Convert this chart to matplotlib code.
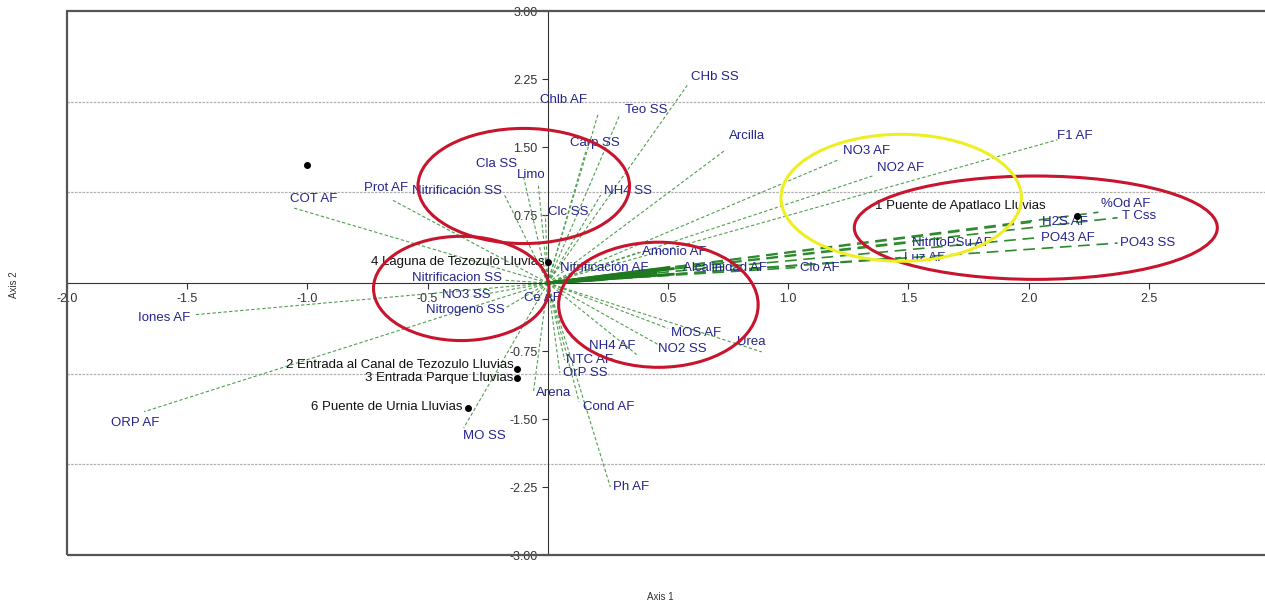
import numpy as np
import matplotlib
matplotlib.use("Agg")
import matplotlib.pyplot as plt
from matplotlib.patches import Ellipse, Rectangle

plt.rcParams['font.family'] = ['Liberation Sans', 'DejaVu Sans']

# variable loadings (axis 1, axis 2)
var_names = ['CHb SS', 'Teo SS', 'Chlb AF', 'Carp SS', 'Cla SS', 'Limo', 'Clc SS',
             'NH4 SS', 'Arcilla', 'Nitrificación SS', 'Prot AF', 'COT AF',
             'NO3 AF', 'NO2 AF', 'F1 AF', '%Od AF', 'T Css', 'H2S AF', 'PO43 AF',
             'PO43 SS', 'NitritoPSu AF', 'Luz AF', 'Clo AF', 'Alcalinidad AF',
             'Nitrificación AF', 'Amonio AF', 'MOS AF', 'NO2 SS', 'Urea', 'NH4 AF',
             'NTC AF', 'OrP SS', 'Arena', 'Cond AF', 'Ph AF', 'MO SS', 'Ce AF',
             'Nitrificacion SS', 'NO3 SS', 'Nitrogeno SS', 'Iones AF', 'ORP AF']
var_x = [0.58, 0.30, 0.21, 0.16, -0.10, -0.04, -0.01,
         0.22, 0.74, -0.18, -0.65, -1.06,
         1.21, 1.35, 2.12, 2.29, 2.37, 2.01, 2.04,
         2.37, 1.49, 1.47, 1.03, 0.55,
         0.04, 0.38, 0.50, 0.46, 0.89, 0.37,
         0.07, 0.05, -0.06, 0.13, 0.26, -0.35, -0.07,
         -0.18, -0.32, -0.18, -1.47, -1.68]
var_y = [2.18, 1.86, 1.87, 1.47, 1.16, 1.10, 0.75,
         0.97, 1.47, 0.97, 0.92, 0.83,
         1.36, 1.18, 1.58, 0.78, 0.72, 0.67, 0.50,
         0.44, 0.44, 0.28, 0.17, 0.17,
         0.17, 0.34, -0.50, -0.68, -0.76, -0.79,
         -0.85, -0.99, -1.21, -1.31, -2.25, -1.60, -0.17,
         0.03, -0.15, -0.28, -0.35, -1.42]

# site scores
site_names = ['1 Puente de Apatlaco Lluvias', '2 Entrada al Canal de Tezozulo Lluvias',
              '3 Entrada Parque Lluvias', '4 Laguna de Tezozulo Lluvias',
              '6 Puente de Urnia Lluvias', '']
site_x = [2.20, -0.13, -0.13, 0.00, -0.33, -1.00]
site_y = [0.74, -0.95, -1.05, 0.23, -1.38, 1.30]

# group outlines: (centre x, centre y, width, height, colour)
groups = [(-0.10, 1.07, 0.88, 1.27, '#c8142d'),
          (-0.36, -0.06, 0.73, 1.15, '#c8142d'),
          (0.46, -0.24, 0.83, 1.38, '#c8142d'),
          (2.03, 0.61, 1.51, 1.14, '#c8142d'),
          (1.47, 0.94, 1.00, 1.40, '#eeee22')]

# label placement: offset in points and alignment
lab_pos = {
    'CHb SS': (3, 6, 'left'), 'Teo SS': (4, 3, 'left'), 'Chlb AF': (-8, 10, 'right'),
    'Carp SS': (6, 5, 'center'), 'Cla SS': (-5, 10, 'right'), 'Limo': (-5, 6, 'center'),
    'Clc SS': (2, 2, 'left'), 'NH4 SS': (20, 3, 'center'), 'Arcilla': (2, 10, 'left'),
    'Nitrificación SS': (-2, 3, 'right'), 'Prot AF': (-4, 8, 'center'),
    'COT AF': (-2, 6, 'left'), 'NO3 AF': (3, 6, 'left'), 'NO2 AF': (3, 6, 'left'),
    'F1 AF': (0, 3, 'left'), '%Od AF': (2, 6, 'left'), 'T Css': (3, 1, 'left'),
    'H2S AF': (8, 0, 'left'), 'PO43 AF': (2, 0, 'left'), 'PO43 SS': (2, 0, 'left'),
    'NitritoPSu AF': (4, 0, 'left'), 'Luz AF': (2, 0, 'left'), 'Clo AF': (3, 0, 'left'),
    'Alcalinidad AF': (2, 0, 'left'), 'Nitrificación AF': (2, 0, 'left'),
    'Amonio AF': (2, 0, 'left'), 'MOS AF': (2, -3, 'left'), 'NO2 SS': (0, -3, 'left'),
    'Urea': (-18, 7, 'left'), 'NH4 AF': (-1, 6, 'right'), 'NTC AF': (1, 0, 'left'),
    'OrP SS': (2, 0, 'left'), 'Arena': (2, 0, 'left'), 'Cond AF': (3, -4, 'left'),
    'Ph AF': (2, 0, 'left'), 'MO SS': (15, -6, 'center'), 'Ce AF': (8, 0, 'center'),
    'Nitrificacion SS': (-2, 2, 'right'), 'NO3 SS': (14, 1, 'right'),
    'Nitrogeno SS': (0, -1, 'right'), 'Iones AF': (-3, -2, 'right'),
    'ORP AF': (-6, -8, 'center'),
}
site_pos = {
    '1 Puente de Apatlaco Lluvias': (-22, 7, 'right'),
    '2 Entrada al Canal de Tezozulo Lluvias': (-2, 3, 'right'),
    '3 Entrada Parque Lluvias': (-2, 0, 'right'),
    '4 Laguna de Tezozulo Lluvias': (-2, 0, 'right'),
    '6 Puente de Urnia Lluvias': (-4, 1, 'right'),
    '': (0, 0, 'right'),
}

fig = plt.figure(figsize=(12.65, 6.06), dpi=100)
ax = fig.add_axes([67 / 1265, 51 / 606, 1202 / 1265, 544 / 606])
ax.set_xlim(-2.0, 3.0)
ax.set_ylim(-3.0, 3.0)

# axes through the origin, boxed plot area
for s in ['top', 'right']:
    ax.spines[s].set_visible(False)
ax.spines['left'].set_position(('data', 0))
ax.spines['bottom'].set_position(('data', 0))
ax.spines['left'].set_color('#333333')
ax.spines['bottom'].set_color('#333333')
ax.add_patch(Rectangle((0, 0), 1, 1, transform=ax.transAxes, fill=False,
                       ec='#555555', lw=1.6, clip_on=False, zorder=5))

xt = [-2.0, -1.5, -1.0, -0.5, 0.5, 1.0, 1.5, 2.0, 2.5]
yt = [-3.0, -2.25, -1.5, -0.75, 0.75, 1.5, 2.25, 3.0]
ax.set_xticks(xt)
ax.set_xticklabels(['%.1f' % v for v in xt])
ax.set_yticks(yt)
ax.set_yticklabels(['%.2f' % v for v in yt])
ax.tick_params(labelsize=9, colors='#333333', length=4)
ax.set_xticks([-1, 1, 2], minor=True)
ax.set_yticks([-2, -1, 1, 2], minor=True)
ax.tick_params(which='minor', length=0)
ax.grid(which='minor', axis='x', color='#c4c4c4', lw=0.9)
ax.grid(which='minor', axis='y', color='#b0b0b0', lw=0.9, ls=(0, (2, 1)))

fig.text(660 / 1265, 1 - 597 / 606, 'Axis 1', ha='center', va='center', fontsize=7, color='#333333')
fig.text(14 / 1265, 1 - 285 / 606, 'Axis 2', ha='center', va='center', fontsize=7,
         rotation=90, color='#333333')

# loadings as lines from the origin
for name, x, y in zip(var_names, var_x, var_y):
    if x > 0.9 and abs(y) < 0.8:
        ax.plot([0, x], [0, y], color='#2f8a2f', lw=1.2, ls=(0, (7, 4)), zorder=2)
    else:
        ax.plot([0, x], [0, y], color='#4f9f4f', lw=0.8, ls=(0, (3, 2)), zorder=2)
    dx, dy, ha = lab_pos[name]
    ax.annotate(name, (x, y), xytext=(dx, dy), textcoords='offset points',
                ha=ha, va='center', fontsize=9.5, color='#24248c', zorder=4)

# solid stubs near the origin for the long right-hand loadings
for x, y in zip(var_x, var_y):
    if x > 0.9 and abs(y) < 0.8:
        ax.plot([0, x * 0.22], [0, y * 0.22], color='#1f7a1f', lw=2.0, zorder=3)

# sites
for name, x, y in zip(site_names, site_x, site_y):
    ax.plot(x, y, 'o', color='black', ms=4, zorder=4)
    dx, dy, ha = site_pos[name]
    ax.annotate(name, (x, y), xytext=(dx, dy), textcoords='offset points',
                ha=ha, va='center', fontsize=9.5, color='#111111', zorder=4)

for cx, cy, w, h, c in groups:
    ax.add_patch(Ellipse((cx, cy), w, h, fill=False, ec=c, lw=2.2, zorder=6))

fig.savefig('out.png', dpi=100)
